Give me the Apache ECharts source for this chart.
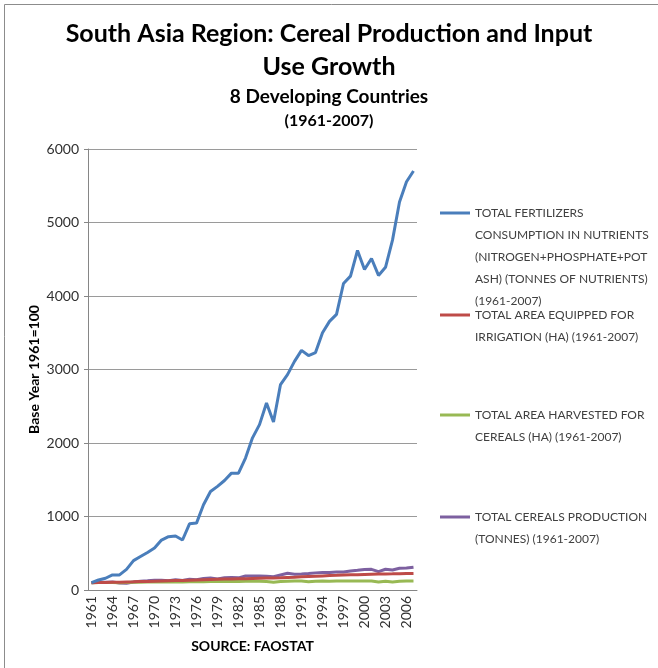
<!DOCTYPE html>
<html>
<head>
<meta charset="utf-8">
<script src="https://cdn.jsdelivr.net/npm/echarts@6/dist/echarts.min.js"></script>
<style>
  html, body { margin: 0; padding: 0; background: #fff; }
  #chart { width: 658px; height: 668px; }
</style>
</head>
<body>
<div id="chart"></div>
<script>
// years 1961-2007, base year 1961 = 100
var years = [];
for (var y = 1961; y <= 2007; y++) years.push(String(y));

var fertilizer = [100, 136, 160, 205, 205, 280, 400, 455, 510, 570,
  680, 725, 735, 680, 900, 910, 1160, 1340, 1410, 1490,
  1590, 1590, 1795, 2070, 2250, 2545, 2285, 2795, 2930, 3110,
  3260, 3190, 3230, 3500, 3655, 3750, 4170, 4270, 4620, 4360,
  4510, 4280, 4390, 4760, 5280, 5555, 5700];

var irrigation = [100, 101, 103, 105, 107, 109, 111, 114, 117, 120,
  123, 126, 128, 130, 133, 136, 139, 142, 145, 148,
  150, 152, 154, 157, 160, 162, 164, 167, 171, 175,
  180, 184, 188, 192, 196, 199, 203, 206, 209, 212,
  215, 217, 219, 220, 222, 224, 226];

var harvested = [100, 102, 103, 103, 100, 101, 104, 107, 108, 110,
  110, 108, 111, 108, 113, 112, 112, 116, 115, 116,
  118, 117, 120, 120, 118, 116, 106, 117, 120, 121,
  121, 112, 120, 121, 120, 122, 122, 123, 124, 123,
  122, 108, 120, 110, 120, 123, 124];

var production = [100, 105, 104, 110, 95, 92, 108, 120, 125, 133,
  132, 125, 140, 128, 148, 140, 158, 163, 150, 166,
  170, 165, 190, 190, 190, 188, 180, 205, 227, 215,
  218, 225, 233, 237, 238, 244, 245, 258, 268, 280,
  281, 250, 282, 272, 295, 298, 310];

var seriesNames = [
  'TOTAL FERTILIZERS\nCONSUMPTION IN NUTRIENTS\n(NITROGEN+PHOSPHATE+POT\nASH) (TONNES OF NUTRIENTS)\n(1961-2007)',
  'TOTAL AREA EQUIPPED FOR\nIRRIGATION (HA) (1961-2007)',
  'TOTAL AREA HARVESTED FOR\nCEREALS (HA) (1961-2007)',
  'TOTAL CEREALS PRODUCTION\n(TONNES) (1961-2007)'
];
var seriesData = [fertilizer, irrigation, harvested, production];
var colors = ['#4A7EBB', '#BE4B48', '#98B954', '#7D60A0'];

var font = 'Lato, "Open Sans", sans-serif';
var lineH = 22;
var legendIconY = [213, 315, 415, 517];

var chart = echarts.init(document.getElementById('chart'));

// one legend per series; blank lines in front keep the icon on the first text line
var legends = seriesNames.map(function (name, i) {
  var n = name.split('\n').length;
  return {
    orient: 'vertical',
    left: 440,
    top: legendIconY[i] - (2 * n - 1) * lineH / 2,
    data: [name],
    icon: 'rect',
    itemWidth: 30,
    itemHeight: 3,
    padding: 0,
    formatter: function (s) {
      return new Array(n).join(' \n') + s;
    },
    textStyle: {
      fontFamily: font,
      fontSize: 12,
      color: '#404040',
      lineHeight: lineH
    }
  };
});

var option = {
  animation: false,
  color: colors,
  title: [{
    text: 'South Asia Region: Cereal Production and Input\nUse Growth',
    left: 'center',
    top: 12,
    textStyle: { fontFamily: font, fontSize: 25, fontWeight: 'bold', color: '#000', lineHeight: 33 }
  }, {
    text: '8 Developing Countries',
    left: 'center',
    top: 82,
    textStyle: { fontFamily: font, fontSize: 19, fontWeight: 'bold', color: '#000' }
  }, {
    text: '(1961-2007)',
    left: 'center',
    top: 108,
    textStyle: { fontFamily: font, fontSize: 16, fontWeight: 'bold', color: '#000' }
  }],
  legend: legends,
  grid: { left: 88, right: 241, top: 149, bottom: 78 },
  xAxis: {
    type: 'category',
    data: years,
    boundaryGap: true,
    name: 'SOURCE: FAOSTAT',
    nameLocation: 'middle',
    nameGap: 49,
    nameTextStyle: { fontFamily: font, fontSize: 14, fontWeight: 'bold', color: '#000' },
    axisLine: { lineStyle: { color: '#868686', width: 1 } },
    axisTick: { interval: 0, length: 5, lineStyle: { color: '#868686' } },
    axisLabel: {
      interval: 2,
      rotate: 90,
      fontFamily: font,
      fontSize: 14,
      color: '#303030',
      margin: 6
    }
  },
  yAxis: {
    type: 'value',
    min: 0,
    max: 6000,
    interval: 1000,
    name: 'Base Year 1961=100',
    nameLocation: 'middle',
    nameGap: 47,
    nameTextStyle: { fontFamily: font, fontSize: 14, fontWeight: 'bold', color: '#000' },
    axisLine: { show: true, lineStyle: { color: '#868686' } },
    axisTick: { show: true, length: 4, lineStyle: { color: '#868686' } },
    axisLabel: {
      fontFamily: font, fontSize: 14, color: '#303030', margin: 9,
      formatter: function (v) { return String(v); }
    },
    splitLine: { lineStyle: { color: '#9a9a9a', width: 1 } }
  },
  series: seriesNames.map(function (name, i) {
    return {
      name: name,
      type: 'line',
      data: seriesData[i],
      showSymbol: false,
      symbol: 'none',
      lineStyle: { width: 3, color: colors[i] },
      itemStyle: { color: colors[i] },
      z: 10 - i
    };
  }),
  graphic: [{
    type: 'polyline',
    shape: { points: [[4.5, 668], [4.5, 4.5], [658, 4.5]] },
    style: { stroke: '#8c8c8c', lineWidth: 1, fill: null }
  }]
};

chart.setOption(option);
</script>
</body>
</html>
